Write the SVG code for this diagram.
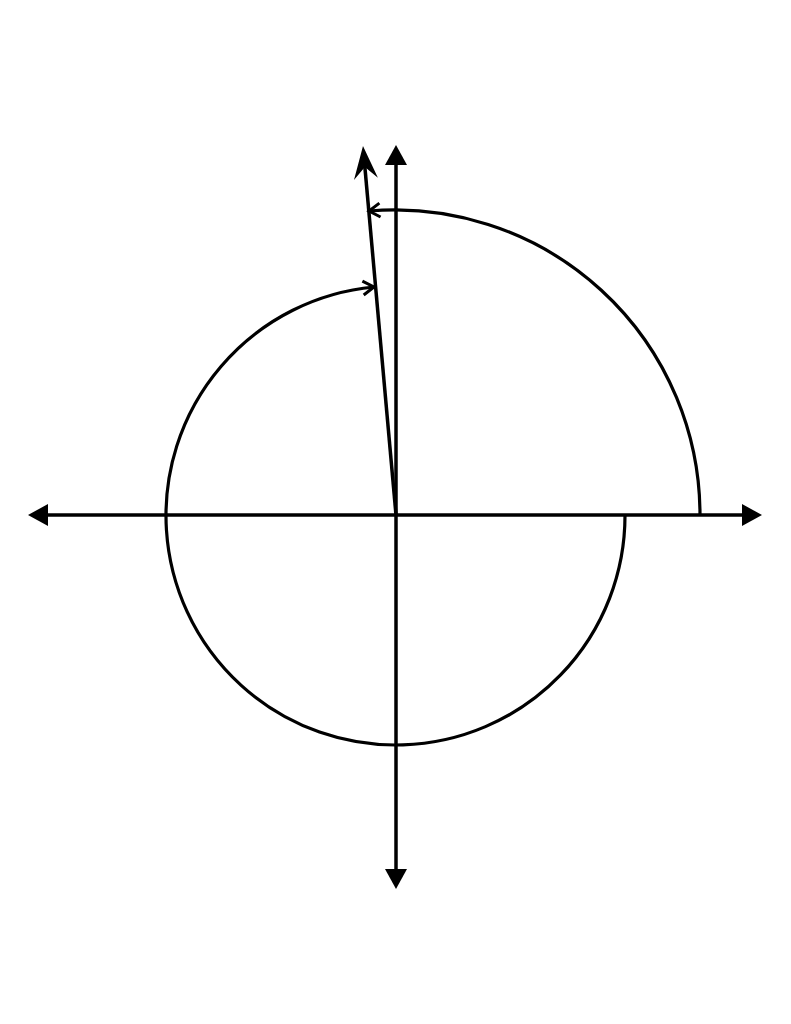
<svg xmlns="http://www.w3.org/2000/svg" width="791" height="1024" viewBox="0 0 791 1024">
  <style>
    .ln { fill: none; stroke: #000; stroke-width: 3.5; }
    .arc { fill: none; stroke: #000; stroke-width: 3.2; }
  </style>
  <defs>
    <marker id="axisArrow" markerUnits="userSpaceOnUse" markerWidth="32" markerHeight="26" viewBox="-2 -13 32 26" refX="0" refY="0" orient="auto-start-reverse" overflow="visible">
      <path d="M8,0 L-12,-11 L-12,11 Z" fill="#000"/>
    </marker>
    <marker id="rayArrow" markerUnits="userSpaceOnUse" markerWidth="40" markerHeight="28" viewBox="-34 -14 40 28" refX="0" refY="0" orient="auto" overflow="visible">
      <path d="M9,0 L-24,-12 L-12,0 L-24,12 Z" fill="#000"/>
    </marker>
    <marker id="openArrow" markerUnits="userSpaceOnUse" markerWidth="16" markerHeight="18" viewBox="-14 -9 16 18" refX="0" refY="0" orient="auto" overflow="visible">
      <path d="M-11,-7 L0,0 L-11,7" fill="none" stroke="#000" stroke-width="3"/>
    </marker>
  </defs>
  <rect width="791" height="1024" fill="#fff"/>
  <g id="connectors">
    <line id="x-axis" class="ln" x1="36" y1="515" x2="754" y2="515" marker-start="url(#axisArrow)" marker-end="url(#axisArrow)"/>
    <line id="y-axis" class="ln" x1="396" y1="153" x2="396" y2="881" marker-start="url(#axisArrow)" marker-end="url(#axisArrow)"/>
    <line id="terminal-ray" class="ln" x1="396" y1="515" x2="363.8" y2="155" marker-end="url(#rayArrow)"/>
    <path id="inner-arc" class="arc" d="M 625 515 A 229.5 229.5 0 1 1 374 287" marker-end="url(#openArrow)"/>
    <path id="outer-arc" class="arc" d="M 700 515 A 305 305 0 0 0 369 211" marker-end="url(#openArrow)"/>
  </g>
</svg>
